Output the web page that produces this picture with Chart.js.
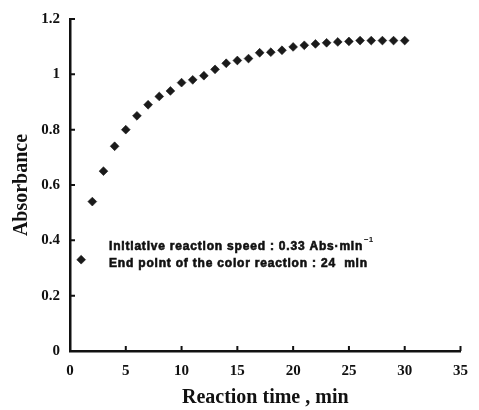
<!DOCTYPE html>
<html>
<head>
<meta charset="utf-8">
<script src="https://cdn.jsdelivr.net/npm/chart.js@4/dist/chart.umd.min.js"></script>
<style>
  html, body { margin: 0; padding: 0; background: #fff; }
  canvas { display: block; }
</style>
</head>
<body>
<canvas id="absChart" width="479" height="410"></canvas>
<script>
// 反应时间 (min) 与吸光度
const times = [1, 2, 3, 4, 5, 6, 7, 8, 9, 10, 11, 12, 13, 14, 15,
  16, 17, 18, 19, 20, 21, 22, 23, 24, 25, 26, 27, 28, 29, 30]
const absorbance = [0.33, 0.54, 0.65, 0.74, 0.80, 0.85, 0.89, 0.92, 0.94, 0.97,
  0.98, 0.995, 1.018, 1.04, 1.05, 1.057, 1.078, 1.08, 1.087, 1.099,
  1.105, 1.11, 1.114, 1.117, 1.119, 1.122, 1.122, 1.122, 1.122, 1.122]

const xTicks = [0, 5, 10, 15, 20, 25, 30, 35]
const yTicks = [0, 0.2, 0.4, 0.6, 0.8, 1, 1.2]
const yTickLabels = ['0', '0.2', '0.4', '0.6', '0.8', '1', '1.2']

const noteLines = [
  'Initiative reaction speed : 0.33 Abs·min',
  'End point of the color reaction : 24  min'
]
const noteSup = '−1'
const notePos = { x: 3.5, y: 0.377 }

const INK = '#111'
const tickFont = { family: '"Liberation Serif", serif', size: 15, weight: 'bold' }
const titleFont = { family: '"Liberation Serif", serif', size: 20, weight: 'bold' }

// 向内的刻度线
const innerTicks = {
  id: 'innerTicks',
  afterDraw(chart) {
    const { ctx, scales: { x, y } } = chart
    ctx.save()
    ctx.strokeStyle = INK
    ctx.lineWidth = 2
    ctx.beginPath()
    xTicks.forEach(v => {
      const px = x.getPixelForValue(v)
      ctx.moveTo(px, y.bottom)
      ctx.lineTo(px, y.bottom - 5)
    })
    yTicks.forEach(v => {
      const py = y.getPixelForValue(v)
      ctx.moveTo(x.left, py)
      ctx.lineTo(x.left + 5, py)
    })
    ctx.stroke()
    ctx.restore()
  }
}

// 说明文字（加一点描边让字更粗）
const noteText = {
  id: 'noteText',
  afterDraw(chart) {
    const { ctx, scales: { x, y } } = chart
    const left = x.getPixelForValue(notePos.x)
    const top = y.getPixelForValue(notePos.y)
    ctx.save()
    ctx.fillStyle = INK
    ctx.strokeStyle = INK
    ctx.lineWidth = 0.6
    ctx.font = 'bold 12px "Liberation Sans", Arial, sans-serif'
    ctx.letterSpacing = '0.8px'
    ctx.textBaseline = 'middle'
    ctx.textAlign = 'left'
    noteLines.forEach((line, i) => {
      ctx.fillText(line, left, top + i * 17)
      ctx.strokeText(line, left, top + i * 17)
    })
    const w = ctx.measureText(noteLines[0]).width
    ctx.font = 'bold 8px "Liberation Sans", Arial, sans-serif'
    ctx.letterSpacing = '0px'
    ctx.fillText(noteSup, left + w + 1, top - 7)
    ctx.restore()
  }
}

new Chart(document.getElementById('absChart'), {
  type: 'scatter',
  data: {
    datasets: [{
      data: times.map((t, i) => ({ x: t, y: absorbance[i] })),
      pointStyle: 'rectRot',
      pointRadius: 4.4,
      pointBackgroundColor: '#1a1a1a',
      pointBorderColor: '#1a1a1a',
      pointBorderWidth: 0.6
    }]
  },
  options: {
    responsive: false,
    animation: false,
    layout: { padding: { top: 14, right: 10, left: 0, bottom: 0 } },
    plugins: {
      legend: { display: false },
      tooltip: { enabled: false }
    },
    scales: {
      x: {
        type: 'linear',
        min: 0,
        max: 35,
        afterBuildTicks: s => { s.ticks = xTicks.map(v => ({ value: v })) },
        afterFit: s => { s.height = 59 },
        grid: { display: false, drawTicks: false },
        border: { display: true, color: INK, width: 2.5 },
        ticks: { color: INK, font: tickFont, padding: 11 },
        title: {
          display: true,
          text: 'Reaction time , min',
          color: INK,
          font: titleFont,
          padding: { top: 0, bottom: 0 }
        }
      },
      y: {
        type: 'linear',
        min: 0,
        max: 1.2,
        afterBuildTicks: s => { s.ticks = yTicks.map(v => ({ value: v })) },
        afterFit: s => { s.width = 70 },
        grid: { display: false, drawTicks: false },
        border: { display: true, color: INK, width: 2.5 },
        ticks: {
          color: INK,
          font: tickFont,
          padding: 10,
          callback: (v, i) => yTickLabels[i]
        },
        title: {
          display: true,
          text: 'Absorbance',
          color: INK,
          font: titleFont,
          padding: { top: 10, bottom: 0 }
        }
      }
    }
  },
  plugins: [innerTicks, noteText]
})
</script>
</body>
</html>
